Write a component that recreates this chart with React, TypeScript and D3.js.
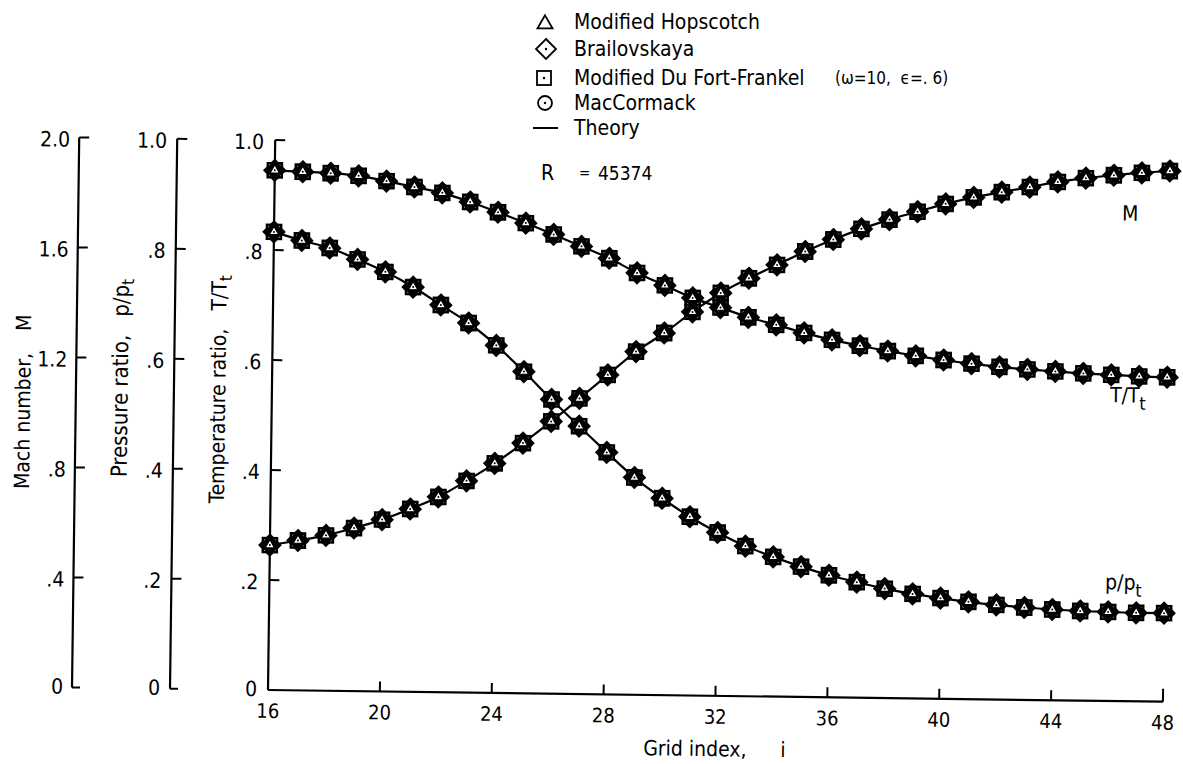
import React from 'react';
import * as d3 from 'd3';

// grid index i along the nozzle
const gridIndex = [16, 17, 18, 19, 20, 21, 22, 23, 24, 25, 26, 27, 28, 29, 30, 31, 32,
  33, 34, 35, 36, 37, 38, 39, 40, 41, 42, 43, 44, 45, 46, 47, 48];

// values (all four schemes lie on top of each other)
const machNumber = [0.527, 0.545, 0.565, 0.593, 0.625, 0.665, 0.71, 0.77, 0.835, 0.91, 0.99,
  1.075, 1.162, 1.248, 1.317, 1.395, 1.465, 1.52, 1.57, 1.62, 1.665, 1.705, 1.74, 1.77,
  1.8, 1.825, 1.845, 1.865, 1.885, 1.9, 1.912, 1.922, 1.93];
const pressureRatio = [0.833, 0.818, 0.805, 0.785, 0.763, 0.736, 0.704, 0.672, 0.632, 0.585,
  0.535, 0.487, 0.44, 0.395, 0.358, 0.325, 0.297, 0.273, 0.254, 0.237, 0.222, 0.21, 0.199,
  0.19, 0.183, 0.177, 0.172, 0.168, 0.165, 0.163, 0.162, 0.161, 0.161];
const temperatureRatio = [0.945, 0.943, 0.941, 0.937, 0.928, 0.918, 0.908, 0.892, 0.874,
  0.855, 0.835, 0.814, 0.793, 0.767, 0.745, 0.723, 0.706, 0.689, 0.676, 0.662, 0.65, 0.64,
  0.631, 0.623, 0.616, 0.61, 0.605, 0.601, 0.598, 0.595, 0.593, 0.591, 0.59];

const xTicks = [16, 20, 24, 28, 32, 36, 40, 44, 48];
const ratioTicks = [0, 0.2, 0.4, 0.6, 0.8, 1.0];
const ratioTickLabels = ['0', '.2', '.4', '.6', '.8', '1.0'];
const machTicks = [0, 0.4, 0.8, 1.2, 1.6, 2.0];
const machTickLabels = ['0', '.4', '.8', '1.2', '1.6', '2.0'];
const legendLabels = ['Modified Hopscotch', 'Brailovskaya', 'Modified Du Fort-Frankel', 'MacCormack', 'Theory'];

const FONT = "'DejaVu Sans Condensed', 'Liberation Sans Narrow', 'DejaVu Sans', sans-serif";

const x = d3.scaleLinear().domain([16, 48]).range([268, 1163]);
const y = d3.scaleLinear().domain([0, 1]).range([690, 140]);
const yMach = d3.scaleLinear().domain([0, 2]).range([690, 140]);

const machAxisX = 72;
const pressAxisX = 170;
const tempAxisX = x(16);

const triPath = (s: number) => {
  const h = s * Math.sqrt(3) / 2;
  return `M0,${-h * 2 / 3}L${s / 2},${h / 3}L${-s / 2},${h / 3}Z`;
};

const DataMarker = ({ cx, cy }: { cx: number; cy: number }) => (
  <g transform={`translate(${cx},${cy})`}>
    <path d="M0,-10L10,0L0,10L-10,0Z" fill="#fff" stroke="#000" strokeWidth={2.6} />
    <rect x={-7} y={-7} width={14} height={14} fill="#fff" stroke="#000" strokeWidth={2.6} />
    <circle r={7.5} fill="#000" />
    <path d={triPath(9.5)} fill="#fff" stroke="#000" strokeWidth={1.2} />
    <circle r={1} fill="#000" />
  </g>
);

const App = () => {
  const line = (vals: number[], sc: d3.ScaleLinear<number, number>) =>
    d3.line<number>()
      .x((_, i) => x(gridIndex[i]))
      .y(d => sc(d))
      .curve(d3.curveMonotoneX)(vals) || '';

  const series = [
    { vals: machNumber, sc: yMach },
    { vals: pressureRatio, sc: y },
    { vals: temperatureRatio, sc: y },
  ];

  const vAxis = (ax: number, ticks: number[], labels: string[], sc: d3.ScaleLinear<number, number>, bottomTick: boolean, labelGap: number) => (
    <g>
      <line x1={ax} x2={ax} y1={sc(ticks[ticks.length - 1])} y2={690} stroke="#000" strokeWidth={2.2} />
      {ticks.map((t, i) => (i === 0 && !bottomTick) ? null : (
        <line key={t} x1={ax} x2={ax + (i === 0 ? 8 : 10)} y1={sc(t)} y2={sc(t)} stroke="#000" strokeWidth={2} />
      ))}
      {ticks.map((t, i) => (
        <text key={'l' + t} x={ax - labelGap} y={sc(t) + (i === 0 ? -1 : 2)} dy="0.35em" textAnchor="end"
          fontSize={21} fontFamily={FONT}>{labels[i]}</text>
      ))}
    </g>
  );

  return (
    <svg width={1183} height={764} style={{ position: 'absolute', left: 0, top: 0, background: '#fff' }}>
      <rect width={1183} height={764} fill="#fff" />
      <g transform="rotate(0.75, 268, 690)">
        {vAxis(machAxisX, machTicks, machTickLabels, yMach, true, 9)}
        {vAxis(pressAxisX, ratioTicks, ratioTickLabels, y, true, 10)}
        {vAxis(tempAxisX, ratioTicks, ratioTickLabels, y, false, 11)}

        {/* x axis */}
        <line x1={x(16)} x2={x(48)} y1={690} y2={690} stroke="#000" strokeWidth={2.2} />
        {xTicks.slice(1).map(t => (
          <line key={t} x1={x(t)} x2={x(t)} y1={690} y2={t === 48 ? 677 : 680} stroke="#000" strokeWidth={2} />
        ))}
        {xTicks.map(t => (
          <text key={'x' + t} x={x(t)} y={711} dy="0.35em" textAnchor="middle" fontSize={20} fontFamily={FONT}>{t}</text>
        ))}
        <text x={644} y={743} dy="0.35em" fontSize={21} fontFamily={FONT}>Grid index,</text>
        <text x={781} y={743} dy="0.35em" fontSize={21} fontFamily={FONT}>i</text>

        {/* axis titles */}
        <text transform="translate(19,405) rotate(-90)" dy="0.35em" textAnchor="middle" fontSize={21} fontFamily={FONT}>
          Mach number,<tspan dx={22}>M</tspan>
        </text>
        <text transform="translate(116,380) rotate(-90)" dy="0.35em" textAnchor="middle" fontSize={22} fontFamily={FONT}>
          Pressure ratio,<tspan dx={18}>p/p</tspan><tspan dy={5} fontSize={17}>t</tspan>
        </text>
        <text transform="translate(214,390) rotate(-90)" dy="0.35em" textAnchor="middle" fontSize={21} fontFamily={FONT}>
          Temperature ratio,<tspan dx={18}>T/T</tspan><tspan dy={5} fontSize={17}>t</tspan>
        </text>

        {/* theory curves */}
        {series.map((s, k) => (
          <path key={k} d={line(s.vals, s.sc)} fill="none" stroke="#000" strokeWidth={2.2} />
        ))}
        {/* computed points, four schemes overlapping */}
        {series.map((s, k) => s.vals.map((v, i) => (
          <DataMarker key={k + '-' + i} cx={x(gridIndex[i])} cy={s.sc(v)} />
        )))}

        {/* curve labels */}
        <text x={1124} y={202} dy="0.35em" textAnchor="middle" fontSize={21} fontFamily={FONT}>M</text>
        <text x={1124} y={384} dy="0.35em" textAnchor="middle" fontSize={21} fontFamily={FONT}>
          T/T<tspan dy={7} fontSize={18}>t</tspan>
        </text>
        <text x={1122} y={571} dy="0.35em" textAnchor="middle" fontSize={21} fontFamily={FONT}>
          p/p<tspan dy={7} fontSize={18}>t</tspan>
        </text>
      </g>

      {/* legend */}
      <g fontFamily={FONT} fontSize={21}>
        <path d={triPath(15)} transform="translate(545,24)" fill="none" stroke="#000" strokeWidth={1.8} />
        <path d="M0,-10L10,0L0,10L-10,0Z" transform="translate(546,49)" fill="none" stroke="#000" strokeWidth={1.8} />
        <circle cx={546} cy={49} r={1.2} fill="#000" />
        <rect x={537} y={71} width={14} height={14} fill="none" stroke="#000" strokeWidth={1.8} />
        <circle cx={544} cy={78} r={1.2} fill="#000" />
        <circle cx={545} cy={103} r={7} fill="none" stroke="#000" strokeWidth={1.8} />
        <circle cx={545} cy={103} r={1.2} fill="#000" />
        <line x1={533} x2={558} y1={128} y2={128} stroke="#000" strokeWidth={2} />
        {legendLabels.map((l, i) => (
          <text key={l} x={574} y={[22, 49, 78, 103, 128][i]} dy="0.35em">{l}</text>
        ))}
        <text x={835} y={78} dy="0.35em" fontSize={17} style={{ whiteSpace: 'pre' }}>(ω=10,  ϵ=. 6)</text>
        <text x={541} y={173} dy="0.35em">R</text>
        <text x={579} y={173} dy="0.35em" fontSize={15}>=</text>
        <text x={598} y={173} dy="0.35em" fontSize={19}>45374</text>
      </g>
    </svg>
  );
};

export default App;
